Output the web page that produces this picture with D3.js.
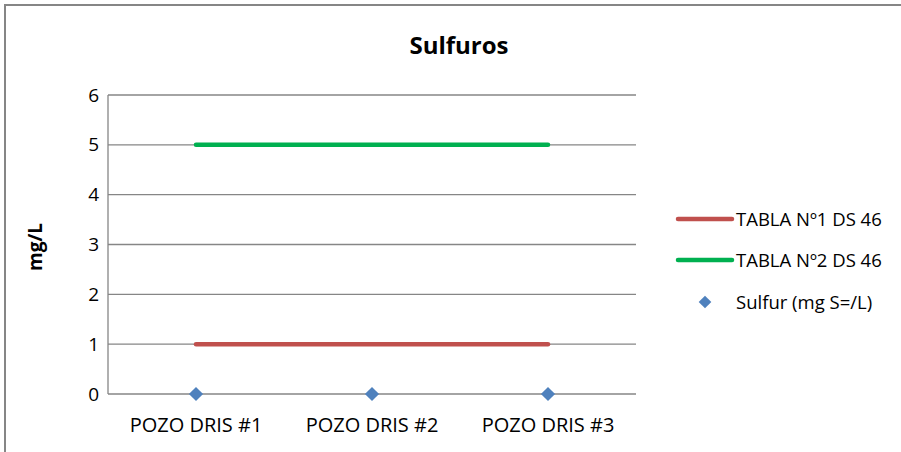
<!DOCTYPE html>
<html><head><meta charset="utf-8">
<script src="https://cdn.jsdelivr.net/npm/d3@7"></script>
<style>body{margin:0;background:#fff}svg{display:block}text{font-family:"Open Sans","Liberation Sans",sans-serif}</style>
</head><body><svg id="c" width="901" height="452"></svg>
<script>
const categories = ["POZO DRIS #1", "POZO DRIS #2", "POZO DRIS #3"];
const tabla1 = [1, 1, 1];
const tabla2 = [5, 5, 5];
const sulfur = [0, 0, 0];
const yTicks = [0, 1, 2, 3, 4, 5, 6];
const seriesNames = ["TABLA Nº1 DS 46", "TABLA Nº2 DS 46", "Sulfur (mg S=/L)"];

const svg = d3.select("#c");
svg.append("rect").attr("x",5).attr("y",5).attr("width",920).attr("height",470)
  .attr("fill","none").attr("stroke","#868686").attr("stroke-width",2);

const L=108,R=636,T=95,B=394;
const x = d3.scaleBand().domain(categories).range([L,R]);
const y = d3.scaleLinear().domain([0,6]).range([B,T]);

svg.append("g").selectAll("line").data(yTicks).join("line")
  .attr("x1",L).attr("x2",R).attr("y1",d=>y(d)).attr("y2",d=>y(d))
  .attr("stroke","#868686").attr("stroke-width",1.3);
svg.append("line").attr("x1",L).attr("x2",L).attr("y1",T).attr("y2",B).attr("stroke","#868686").attr("stroke-width",1.3);

const yAx = svg.append("g").attr("transform",`translate(${L},0)`)
  .call(d3.axisLeft(y).tickValues(yTicks).tickSize(0).tickPadding(9).tickFormat(d3.format("d")));
yAx.select(".domain").remove();
yAx.selectAll("text").attr("font-size",19).attr("fill","#000").attr("font-family","Open Sans");

const xAx = svg.append("g").attr("transform",`translate(0,${B})`)
  .call(d3.axisBottom(x).tickSize(0).tickPadding(24));
xAx.select(".domain").remove();
xAx.selectAll("text").attr("font-size",20).attr("fill","#000").attr("font-family","Open Sans");

const cx = d=>x(d)+x.bandwidth()/2;
const line = d3.line().x((d,i)=>cx(categories[i])).y(d=>y(d));
svg.append("path").datum(tabla1).attr("d",line).attr("fill","none").attr("stroke","#C0504D").attr("stroke-width",4.5).attr("stroke-linecap","round");
svg.append("path").datum(tabla2).attr("d",line).attr("fill","none").attr("stroke","#00B050").attr("stroke-width",4.5).attr("stroke-linecap","round");
const diamond = d3.symbol().type(d3.symbolSquare).size(100);
svg.append("g").selectAll("path").data(sulfur).join("path")
  .attr("d",diamond).attr("fill","#4F81BD")
  .attr("transform",(d,i)=>`translate(${cx(categories[i])},${y(d)}) rotate(45)`);

svg.append("text").attr("x",459).attr("y",54).attr("text-anchor","middle")
  .attr("font-size",24).attr("font-weight","bold").text("Sulfuros");
svg.append("text").attr("transform","translate(42,247) rotate(-90)").attr("text-anchor","middle")
  .attr("font-size",19).attr("font-weight","bold").text("mg/L");

const lg = svg.append("g");
const ly=[219,260,302];
lg.append("line").attr("x1",678).attr("x2",732).attr("y1",ly[0]).attr("y2",ly[0]).attr("stroke","#C0504D").attr("stroke-width",4.5).attr("stroke-linecap","round");
lg.append("line").attr("x1",678).attr("x2",732).attr("y1",ly[1]).attr("y2",ly[1]).attr("stroke","#00B050").attr("stroke-width",4.5).attr("stroke-linecap","round");
lg.append("path").attr("d",d3.symbol().type(d3.symbolSquare).size(80)).attr("fill","#4F81BD").attr("transform",`translate(705,${ly[2]}) rotate(45)`);
lg.selectAll("text").data(seriesNames).join("text")
  .attr("x",736).attr("y",(d,i)=>ly[i]+7).attr("font-size",18.5).attr("fill","#000").text(d=>d);
</script></body></html>
